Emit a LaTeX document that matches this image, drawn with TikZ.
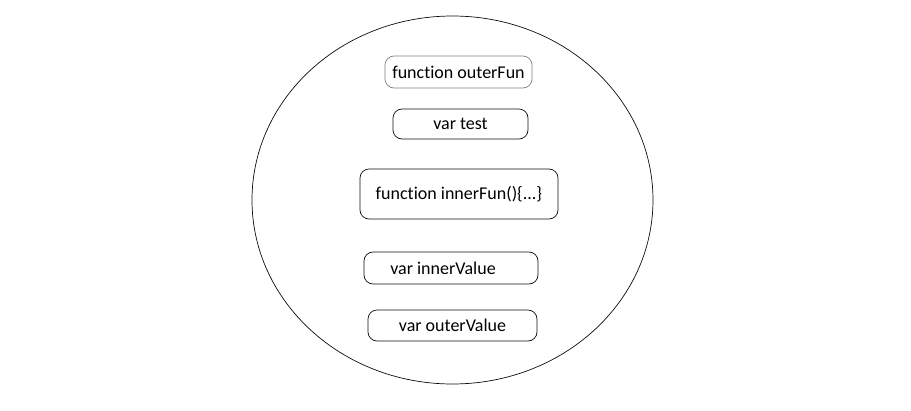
\documentclass[tikz,border=0pt]{standalone}
\usepackage{fontspec}
\setmainfont{Carlito}[Ligatures=NoCommon]
\usepackage{tikz}
\usetikzlibrary{positioning}
\definecolor{mainBlack}{gray}{0.05}
\definecolor{subGray}{gray}{0.5}

\begin{document}
\begin{tikzpicture}[x=1pt, y=-1pt,
    scopebox/.style={draw=mainBlack, line width=0.7pt, rounded corners=9pt, inner sep=0pt,
        font=\fontsize{18}{21}\selectfont},
    ]
    \useasboundingbox (0,0) rectangle (911,410);

    % outer scope
    \draw[mainBlack, line width=0.7pt] (452.5,200) ellipse [x radius=200.5, y radius=184];

    \node[scopebox, draw=subGray, minimum width=147, minimum height=32] (outerFun) at (458.5,72) {function outerFun};
    \node[scopebox, minimum width=135, minimum height=30] (varTest) at (460.5,124) {var test};
    \node[scopebox, minimum width=198, minimum height=50] (innerFun) at (459,194) {function innerFun()\{...\}};
    \node[scopebox, minimum width=174, minimum height=32] (innerValue) at (451,268) {};
    \node[font=\fontsize{18}{21}\selectfont, inner sep=0pt] (innerValueText) at (443,268) {var innerValue};
    \node[scopebox, minimum width=169, minimum height=31] (outerValue) at (452.5,325.5) {var outerValue};
\end{tikzpicture}
\end{document}
